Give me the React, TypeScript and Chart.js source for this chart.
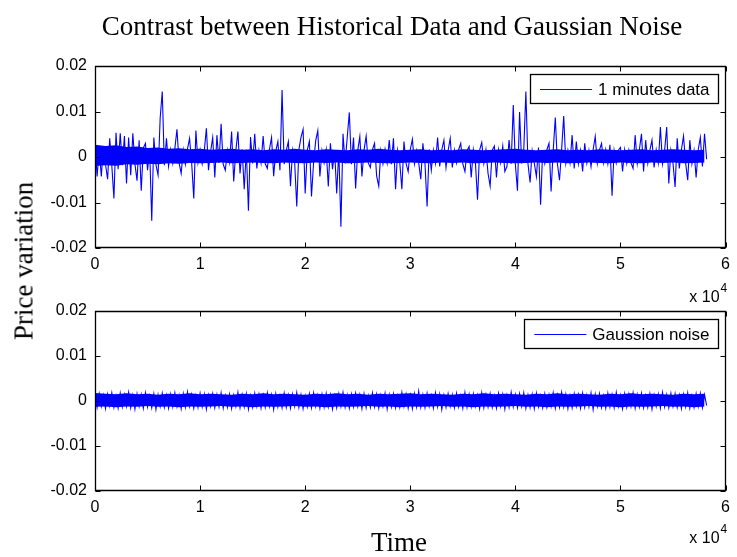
import React, { useEffect, useRef } from "react";
import { Chart, registerables } from "chart.js";

Chart.register(...registerables);

// ---------- data ----------
const SAMPLE_STEP = 200; // time units between stored samples
const BAND_STEP = 1000; // time units between dense-core envelope readings
const TITLE = "Contrast between Historical Data and Gaussian Noise";
const Y_LABEL = "Price variation";
const X_LABEL = "Time";
const X_EXPONENT = "4";
const SERIES_LABELS = ["1 minutes data", "Gaussion noise"];
const X_TICKS = [0, 10000, 20000, 30000, 40000, 50000, 60000];
const X_TICK_LABELS = ["0", "1", "2", "3", "4", "5", "6"];
const Y_TICKS = [-0.02, -0.01, 0, 0.01, 0.02];
const Y_TICK_LABELS = ["-0.02", "-0.01", "0", "0.01", "0.02"];

const minuteData = [
  .0030, -.0043, .0018, -.0043, .0022, -.0016, -.0049, .0041, -.0019, -.0091,
  .0053, -.0027, .0052, -.0018, .0046, -.0058, .0043, -.0040, .0052, -.0015,
  -.0052, .0037, -.0074, .0020, .0030, -.0029, .0017, -.0140, .0043, -.0017,
  -.0040, .0085, .0144, -.0018, .0041, -.0020, .0016, -.0014, .0019, .0061,
  -.0013, -.0036, .0015, -.0016, .0018, .0041, -.0014, -.0091, .0058, -.0012,
  .0016, -.0015, .0014, .0063, -.0029, .0012, .0043, -.0045, .0048, -.0013,
  .0073, -.0016, -.0029, .0015, -.0012, .0056, -.0054, .0014, .0056, -.0036,
  .0017, -.0071, .0016, -.0118, .0044, -.0014, .0051, -.0025, .0015, -.0013,
  .0046, -.0015, -.0025, .0017, .0043, -.0042, .0013, .0034, -.0029, .0147,
  -.0016, .0014, .0034, -.0064, .0015, -.0013, -.0109, .0016, .0043, .0061,
  -.0080, .0015, .0034, -.0087, -.0012, .0036, .0058, -.0043, .0014, -.0013,
  .0016, -.0065, .0030, -.0027, .0013, -.0080, .0015, -.0153, .0051, -.0014,
  .0043, .0098, -.0016, .0043, -.0069, .0014, .0045, -.0043, .0015, .0046,
  -.0013, -.0023, .0016, .0030, -.0042, -.0064, .0014, -.0015, .0017, -.0013,
  .0037, -.0016, .0041, -.0071, .0015, -.0012, -.0071, .0034, -.0014, -.0032,
  .0016, .0039, -.0015, .0014, -.0013, -.0049, .0030, -.0015, -.0109, .0017,
  -.0029, .0015, -.0014, .0043, -.0021, .0016, .0037, -.0023, .0014, .0041,
  -.0023, .0015, -.0013, .0016, .0030, -.0015, -.0032, .0014, .0023, -.0045,
  .0016, -.0013, -.0094, .0015, .0032, -.0014, .0016, -.0036, -.0064, .0015,
  .0024, -.0045, .0016, -.0013, .0024, -.0032, -.0021, .0037, -.0015, .0114,
  -.0016, -.0074, .0099, -.0014, .0016, .0144, -.0015, -.0056, .0014, -.0013,
  -.0043, .0021, -.0105, .0015, -.0014, .0016, .0030, -.0076, .0014, .0087,
  -.0015, -.0051, .0016, .0090, -.0014, .0015, -.0013, .0048, -.0025, .0034,
  -.0015, .0014, -.0032, .0030, -.0013, .0015, -.0021, .0016, .0045, -.0014,
  .0015, .0030, -.0013, .0016, -.0015, .0027, -.0085, .0014, -.0013, .0015,
  .0021, -.0032, .0016, -.0014, .0015, -.0013, -.0025, .0048, -.0015, .0016,
  .0051, -.0032, .0037, -.0014, .0015, .0037, -.0023, .0016, -.0013, .0066,
  -.0015, .0014, .0066, -.0058, .0015, -.0014, -.0066, .0041, -.0025, .0016,
  .0046, -.0013, -.0051, .0037, -.0015, .0014, -.0045, .0016, .0043, -.0021,
  .0051, -.0005,
];

// dense core of the 1-minute series (upper / lower edge), one reading per BAND_STEP
const minuteCoreHigh = [
  .0027, .0024, .0026, .0022, .0023, .0020, .0021, .0018, .0019, .0017,
  .0018, .0016, .0017, .0018, .0016, .0017, .0015, .0017, .0016, .0018,
  .0016, .0015, .0017, .0016, .0015, .0017, .0016, .0018, .0016, .0015,
  .0016, .0017, .0015, .0016, .0015, .0017, .0016, .0015, .0016, .0017,
  .0018, .0016, .0015, .0016, .0017, .0015, .0016, .0015, .0017, .0016,
  .0015, .0016, .0017, .0015, .0016, .0017, .0016, .0015, .0016,
];
const minuteCoreLow = [
  -.0020, -.0018, -.0019, -.0016, -.0017, -.0015, -.0016, -.0014, -.0015, -.0013,
  -.0014, -.0013, -.0012, -.0014, -.0013, -.0012, -.0013, -.0014, -.0012, -.0013,
  -.0014, -.0012, -.0013, -.0012, -.0014, -.0013, -.0012, -.0013, -.0014, -.0013,
  -.0012, -.0013, -.0014, -.0012, -.0013, -.0012, -.0014, -.0013, -.0012, -.0013,
  -.0014, -.0013, -.0012, -.0013, -.0012, -.0014, -.0013, -.0012, -.0013, -.0014,
  -.0012, -.0013, -.0014, -.0012, -.0013, -.0012, -.0014, -.0013, -.0012,
];

const gaussNoise = [
  .0024, -.0014, .0016, -.0012, .0013, -.0017, .0015, -.0011, .0018, -.0014,
  .0012, -.0016, .0017, -.0013, .0014, -.0012, .0019, -.0015, .0013, -.0018,
  .0016, -.0012, .0014, -.0016, .0018, -.0013, .0012, -.0015, .0016, -.0019,
  .0014, -.0012, .0017, -.0014, .0013, -.0016, .0015, -.0013, .0018, -.0012,
  .0013, -.0017, .0016, -.0014, .0020, -.0012, .0014, -.0016, .0012, -.0014,
  .0017, -.0013, .0015, -.0018, .0013, -.0012, .0016, -.0015, .0014, -.0013,
  .0018, -.0016, .0012, -.0014, .0015, -.0017, .0013, -.0012, .0019, -.0015,
  .0014, -.0013, .0016, -.0018, .0012, -.0014, .0017, -.0012, .0015, -.0016,
  .0013, -.0014, .0018, -.0012, .0014, -.0019, .0016, -.0013, .0012, -.0015,
  .0017, -.0014, .0013, -.0016, .0015, -.0012, .0019, -.0014, .0014, -.0017,
  .0012, -.0013, .0016, -.0015, .0018, -.0012, .0013, -.0016, .0015, -.0014,
  .0017, -.0013, .0014, -.0018, .0012, -.0015, .0016, -.0012, .0019, -.0014,
  .0013, -.0016, .0015, -.0013, .0017, -.0012, .0014, -.0017, .0016, -.0015,
  .0012, -.0014, .0018, -.0013, .0015, -.0016, .0013, -.0012, .0017, -.0018,
  .0014, -.0013, .0016, -.0015, .0012, -.0014, .0019, -.0012, .0015, -.0016,
  .0013, -.0017, .0016, -.0013, .0022, -.0014, .0014, -.0015, .0017, -.0012,
  .0012, -.0016, .0018, -.0013, .0015, -.0019, .0013, -.0014, .0016, -.0012,
  .0014, -.0015, .0017, -.0013, .0012, -.0016, .0019, -.0014, .0015, -.0013,
  .0016, -.0012, .0013, -.0017, .0018, -.0015, .0014, -.0013, .0016, -.0014,
  .0012, -.0016, .0017, -.0012, .0015, -.0018, .0013, -.0014, .0019, -.0013,
  .0014, -.0015, .0016, -.0012, .0018, -.0016, .0013, -.0014, .0015, -.0017,
  .0017, -.0013, .0012, -.0015, .0016, -.0014, .0014, -.0012, .0018, -.0016,
  .0013, -.0014, .0019, -.0013, .0015, -.0017, .0012, -.0015, .0016, -.0012,
  .0014, -.0016, .0017, -.0014, .0013, -.0013, .0018, -.0019, .0015, -.0012,
  .0016, -.0014, .0012, -.0016, .0017, -.0013, .0014, -.0015, .0019, -.0012,
  .0013, -.0017, .0016, -.0014, .0015, -.0012, .0018, -.0016, .0014, -.0013,
  .0017, -.0015, .0012, -.0014, .0016, -.0018, .0013, -.0012, .0015, -.0016,
  .0019, -.0013, .0014, -.0015, .0017, -.0012, .0016, -.0014, .0013, -.0017,
  .0015, -.0013, .0018, -.0016, .0012, -.0014, .0016, -.0012, .0017, -.0015,
  .0014, -.0010,
];

// dense core of the Gaussian noise (upper / lower edge), one reading per BAND_STEP
const noiseCoreHigh = [
  .0018, .0016, .0015, .0017, .0015, .0016, .0014, .0016, .0015, .0017,
  .0015, .0016, .0015, .0014, .0016, .0015, .0017, .0015, .0016, .0015,
  .0014, .0016, .0015, .0017, .0015, .0016, .0014, .0016, .0015, .0016,
  .0017, .0015, .0016, .0015, .0014, .0016, .0015, .0017, .0015, .0016,
  .0015, .0014, .0016, .0015, .0017, .0015, .0016, .0015, .0014, .0016,
  .0015, .0017, .0015, .0016, .0015, .0014, .0016, .0015, .0016,
];
const noiseCoreLow = [
  -.0013, -.0012, -.0014, -.0012, -.0013, -.0011, -.0013, -.0012, -.0014, -.0012,
  -.0013, -.0012, -.0011, -.0013, -.0012, -.0014, -.0012, -.0013, -.0012, -.0011,
  -.0013, -.0012, -.0014, -.0012, -.0013, -.0012, -.0011, -.0013, -.0012, -.0014,
  -.0012, -.0013, -.0012, -.0011, -.0013, -.0012, -.0014, -.0012, -.0013, -.0012,
  -.0011, -.0013, -.0012, -.0014, -.0012, -.0013, -.0012, -.0011, -.0013, -.0012,
  -.0014, -.0012, -.0013, -.0012, -.0011, -.0013, -.0012, -.0014, -.0012,
];

// ---------- styling ----------
const SANS = 'Arial, "Liberation Sans", Helvetica, sans-serif';
const SERIF = '"Times New Roman", "Liberation Serif", Times, serif';
const W = 737;
const BLUE = "#0000ff";

const decorPlugin = {
  id: "matlabDecor",
  afterDraw(chart: any, _args: any, opts: any) {
    const { ctx, chartArea: a, scales } = chart;
    const xs = scales.x;
    const ys = scales.y;
    ctx.save();
    ctx.strokeStyle = "#000";
    ctx.lineWidth = 1.3;
    const L = Math.round(a.left) + 0.5;
    const R = Math.round(a.right) - 0.5;
    const T = Math.round(a.top) + 0.5;
    const B = Math.round(a.bottom) - 0.5;
    ctx.beginPath();
    ctx.rect(L, T, R - L, B - T);
    ctx.stroke();
    const TL = 5;
    ctx.lineWidth = 1;
    ctx.beginPath();
    for (const v of X_TICKS) {
      const px = Math.round(xs.getPixelForValue(v)) + 0.5;
      ctx.moveTo(px, B);
      ctx.lineTo(px, B - TL);
      ctx.moveTo(px, T);
      ctx.lineTo(px, T + TL);
    }
    for (const v of Y_TICKS) {
      const py = Math.round(ys.getPixelForValue(v)) + 0.5;
      ctx.moveTo(L, py);
      ctx.lineTo(L + TL, py);
      ctx.moveTo(R, py);
      ctx.lineTo(R - TL, py);
    }
    ctx.stroke();

    ctx.fillStyle = "#000";
    ctx.font = `16px ${SANS}`;
    ctx.textAlign = "right";
    ctx.textBaseline = "alphabetic";
    const ex = a.right - 6;
    const ey = a.bottom + (opts.expoOffset || 53);
    ctx.fillText("x 10", ex, ey);
    ctx.font = `12px ${SANS}`;
    ctx.textAlign = "left";
    ctx.fillText(X_EXPONENT, ex + 1, ey - 10);

    const ds = chart.data.datasets[0];
    ctx.font = `17px ${SANS}`;
    const tw = ctx.measureText(ds.label).width;
    const textRight = a.right - 16;
    const textLeft = textRight - tw;
    const boxL = Math.round(textLeft - 68) + 0.5;
    const boxR = Math.round(a.right - 8) + 0.5;
    const boxT = Math.round(a.top + 8) + 0.5;
    const boxH = 29;
    ctx.fillStyle = "#fff";
    ctx.fillRect(boxL, boxT, boxR - boxL, boxH);
    ctx.strokeStyle = "#000";
    ctx.lineWidth = 1.3;
    ctx.strokeRect(boxL, boxT, boxR - boxL, boxH);
    const cy = boxT + boxH / 2;
    ctx.strokeStyle = ds.borderColor;
    ctx.lineWidth = 1;
    ctx.beginPath();
    ctx.moveTo(textLeft - 58, Math.round(cy) + 0.5);
    ctx.lineTo(textLeft - 6, Math.round(cy) + 0.5);
    ctx.stroke();
    ctx.fillStyle = "#000";
    ctx.textAlign = "left";
    ctx.textBaseline = "middle";
    ctx.fillText(ds.label, textLeft, cy + 1);
    ctx.restore();
  },
};

type PanelProps = {
  values: number[];
  coreHigh: number[];
  coreLow: number[];
  label: string;
  top: number;
  height: number;
  padTop: number;
  xAxisH: number;
  expoOffset: number;
};

function Panel({ values, coreHigh, coreLow, label, top, height, padTop, xAxisH, expoOffset }: PanelProps) {
  const ref = useRef<HTMLCanvasElement | null>(null);
  useEffect(() => {
    if (!ref.current) return;
    const points = values.map((y, i) => ({ x: i * SAMPLE_STEP, y }));
    const hi = coreHigh.map((y, i) => ({ x: i * BAND_STEP, y }));
    const lo = coreLow.map((y, i) => ({ x: i * BAND_STEP, y }));
    const chart = new Chart(ref.current, {
      type: "line",
      data: {
        datasets: [
          {
            label,
            data: points,
            borderColor: BLUE,
            borderWidth: 1.1,
            pointRadius: 0,
            tension: 0,
            fill: false,
          },
          {
            label: "",
            data: hi,
            borderColor: BLUE,
            backgroundColor: BLUE,
            borderWidth: 0,
            pointRadius: 0,
            tension: 0,
            fill: "+1",
          },
          {
            label: "",
            data: lo,
            borderColor: BLUE,
            borderWidth: 0,
            pointRadius: 0,
            tension: 0,
            fill: false,
          },
        ],
      },
      options: {
        responsive: false,
        animation: false,
        devicePixelRatio: 1,
        layout: { padding: { top: padTop, left: 0, right: 4, bottom: 0 } },
        plugins: {
          legend: { display: false },
          tooltip: { enabled: false },
          title: { display: false },
          matlabDecor: { expoOffset },
        } as any,
        scales: {
          x: {
            type: "linear",
            min: 0,
            max: 60000,
            grid: { display: false, drawTicks: false },
            border: { display: false },
            afterBuildTicks: (s: any) => {
              s.ticks = X_TICKS.map((v) => ({ value: v }));
            },
            afterFit: (s: any) => {
              s.height = xAxisH;
            },
            ticks: {
              color: "#000",
              font: { family: SANS, size: 16 },
              padding: 7,
              autoSkip: false,
              maxRotation: 0,
              callback: (_v: any, i: number) => X_TICK_LABELS[i],
            },
          },
          y: {
            type: "linear",
            min: -0.02,
            max: 0.02,
            grid: { display: false, drawTicks: false },
            border: { display: false },
            afterBuildTicks: (s: any) => {
              s.ticks = Y_TICKS.map((v) => ({ value: v }));
            },
            afterFit: (s: any) => {
              s.width = 95;
            },
            ticks: {
              color: "#000",
              font: { family: SANS, size: 16 },
              padding: 8,
              autoSkip: false,
              callback: (_v: any, i: number) => Y_TICK_LABELS[i],
            },
          },
        },
      } as any,
      plugins: [decorPlugin as any],
    });
    return () => chart.destroy();
  }, [values, coreHigh, coreLow, label, padTop, xAxisH, expoOffset]);
  return (
    <canvas
      ref={ref}
      width={W}
      height={height}
      style={{ position: "absolute", left: 0, top, width: W, height }}
    />
  );
}

const textBase: React.CSSProperties = {
  position: "absolute",
  fontFamily: SERIF,
  fontSize: 27,
  lineHeight: "27px",
  whiteSpace: "nowrap",
  color: "#000",
};

export default function App() {
  return (
    <div
      style={{
        position: "absolute",
        left: 0,
        top: 0,
        width: W,
        height: 557,
        background: "#fff",
        overflow: "hidden",
      }}
    >
      <Panel
        values={minuteData}
        coreHigh={minuteCoreHigh}
        coreLow={minuteCoreLow}
        label={SERIES_LABELS[0]}
        top={0}
        height={310}
        padTop={66}
        xAxisH={62}
        expoOffset={54}
      />
      <Panel
        values={gaussNoise}
        coreHigh={noiseCoreHigh}
        coreLow={noiseCoreLow}
        label={SERIES_LABELS[1]}
        top={290}
        height={267}
        padTop={21}
        xAxisH={66}
        expoOffset={52}
      />
      <div style={{ ...textBase, left: 392, top: 26, transform: "translate(-50%, -50%)" }}>{TITLE}</div>
      <div style={{ ...textBase, left: 24, top: 261, transform: "translate(-50%, -50%) rotate(-90deg)" }}>{Y_LABEL}</div>
      <div style={{ ...textBase, left: 399, top: 542, transform: "translate(-50%, -50%)" }}>{X_LABEL}</div>
    </div>
  );
}
